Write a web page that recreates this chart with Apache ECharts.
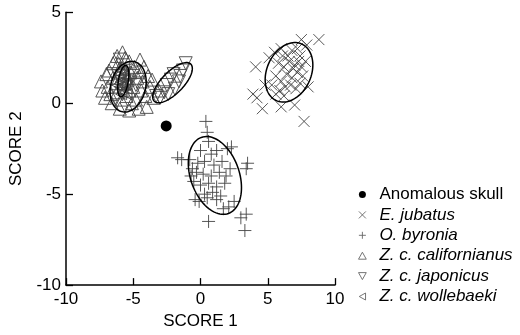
<!DOCTYPE html>
<html>
<head>
<meta charset="utf-8">
<script src="https://cdn.jsdelivr.net/npm/echarts@6/dist/echarts.min.js"></script>
<style>
  html, body { margin: 0; padding: 0; background: #fff; }
  #chart { width: 520px; height: 335px; }
</style>
</head>
<body>
<div id="chart"></div>
<script>
// series names, as in the legend
const seriesNames = ['Anomalous skull', 'E. jubatus', 'O. byronia', 'Z. c. californianus', 'Z. c. japonicus', 'Z. c. wollebaeki'];

const anomalousSkull = [[-2.55, -1.25]];

const eJubatus = [
  [4.1, 2.0], [8.8, 3.5], [7.5, 3.5], [7.9, 3.2], [3.9, 0.5], [4.2, 0.3], [4.6, -0.3], [6.0, -0.2],
  [7.0, -0.1], [7.7, -1.0], [8.0, 0.9], [4.8, 1.0], [5.1, 2.5], [7.2, 3.0],
  [5.5, 2.8], [6.0, 3.0], [6.5, 2.6], [6.8, 2.9], [7.4, 2.6], [5.8, 2.2], [6.2, 2.0], [6.6, 2.3],
  [7.0, 2.1], [7.5, 2.0], [7.8, 2.3], [5.6, 1.5], [6.0, 1.2], [6.4, 1.6], [6.8, 1.4], [7.2, 1.7],
  [7.6, 1.5], [5.3, 1.0], [5.9, 0.7], [6.3, 0.9], [6.7, 1.0], [7.1, 0.8], [6.2, 0.4], [5.6, 0.5],
  [7.4, 1.1], [6.9, 1.9], [6.1, 2.6], [7.3, 2.3]
];

const oByronia = [
  [0.4, -1.0], [0.5, -1.6], [0.6, -2.1], [-1.7, -3.0], [-1.4, -3.1], [2.3, -2.4], [2.0, -2.5], [3.5, -3.3],
  [3.4, -3.6], [-0.3, -3.8], [-0.7, -4.0], [-0.4, -5.3], [0.5, -5.2], [1.9, -4.0], [2.5, -5.4], [-0.1, -5.4],
  [0.6, -6.5], [1.7, -5.8], [3.0, -6.3], [3.3, -7.0], [1.2, -5.3], [2.1, -5.7], [3.4, -6.1],
  [0.0, -2.6], [0.8, -2.8], [1.2, -2.6], [0.3, -3.2], [-0.2, -3.3], [1.0, -3.4], [1.6, -3.2], [-0.6, -3.6],
  [0.2, -3.9], [0.8, -4.0], [1.4, -3.8], [2.2, -3.6], [-0.5, -4.3], [0.0, -4.5], [0.6, -4.4], [1.2, -4.6],
  [1.8, -4.4], [0.3, -5.0], [0.9, -4.9], [1.5, -5.1], [-0.8, -3.1]
];

const zcCalifornianus = [
  [-7.4, 1.2], [-7.0, 1.6], [-6.8, 1.8], [-6.5, 2.2], [-6.2, 2.6], [-5.8, 2.8], [-5.6, 2.5], [-5.3, 2.3],
  [-4.5, 2.4], [-4.2, 2.0], [-3.9, 1.5], [-3.6, 1.3], [-3.75, 0.9], [-3.1, 0.7], [-4.0, -0.2], [-4.6, -0.3],
  [-5.3, -0.4], [-6.0, -0.3], [-6.6, 0.0], [-7.1, 0.3], [-7.3, 0.7], [-6.9, 0.9], [-6.5, 1.4], [-6.2, 0.6],
  [-6.0, 1.9], [-5.7, 1.1], [-5.5, 0.4], [-5.2, 1.7], [-5.0, 0.9], [-4.8, 0.2], [-4.7, 1.4], [-4.4, 0.7],
  [-4.3, 1.2], [-5.9, 0.2], [-6.3, 1.1], [-5.4, 1.3], [-4.9, 2.0], [-5.1, 0.0], [-4.1, 0.4], [-6.7, 0.5],
  [-5.6, 1.7], [-5.9, 1.4], [-5.3, 0.7], [-4.6, 1.8], [-6.1, 2.2], [-3.5, 0.3]
];

const zcJaponicus = [
  [-1.1, 2.2], [-1.3, 1.8], [-1.6, 1.2], [-2.2, 1.3], [-1.9, 0.8], [-3.0, 0.3], [-2.5, 1.0], [-2.0, 1.6],
  [-1.5, 1.5], [-2.7, 0.6], [-3.3, 0.4], [-2.4, 0.5],
  [-6.5, 1.6], [-5.8, 0.5], [-5.4, 1.2], [-6.0, 2.4], [-4.8, 1.0], [-6.3, 0.2], [-5.0, 1.5]
];

const zcWollebaeki = [
  [-5.9, 1.8], [-5.7, 1.5], [-5.9, 1.2], [-5.6, 1.0], [-6.0, 0.9], [-5.8, 0.6], [-5.5, 0.8], [-6.1, 1.4],
  [-5.7, 2.0], [-5.8, 1.0], [-6.0, 1.6], [-5.6, 1.3], [-5.5, 0.5], [-5.9, 0.5], [-6.2, 1.0]
];

// ellipses: centre and two conjugate semi-axis vectors, all in score units
const ellipseCenters = [[6.58, 1.70], [1.07, -3.97], [-5.38, 0.91], [-2.08, 1.13], [-5.74, 1.22]];
const ellipseAxisU = [[0.96, 1.55], [-1.01, 2.09], [0.49, 1.37], [1.36, 1.02], [0.20, 0.86]];
const ellipseAxisV = [[1.49, -0.52], [1.70, 0.46], [1.25, -0.25], [0.565, -0.424], [0.36, -0.05]];

const xTicks = [-10, -5, 0, 5, 10];
const yTicks = [-10, -5, 0, 5];

const FONT = '"Liberation Sans", Arial, sans-serif';
const markColor = '#444';

const symbols = {
  cross: 'path://M0,0L10,10M10,0L0,10',
  plus: 'path://M5,0L5,10M0,5L10,5',
  triUp: 'path://M5,0L10,9L0,9Z',
  triDown: 'path://M0,0L10,0L5,9Z',
  triLeft: 'path://M0,5L9,0L9,10Z'
};

function markSeries(name, data, symbol, size) {
  return {
    name: name,
    type: 'scatter',
    data: data,
    symbol: symbol,
    symbolSize: size,
    itemStyle: { color: 'none', borderColor: markColor, borderWidth: 0.9, opacity: 1 },
    emphasis: { disabled: true },
    z: 2
  };
}

const chart = echarts.init(document.getElementById('chart'));

chart.setOption({
  animation: false,
  textStyle: { fontFamily: FONT },
  grid: { left: 58.5, right: 185, top: 12.3, bottom: 46.7 },
  xAxis: {
    type: 'value',
    min: xTicks[0], max: xTicks[xTicks.length - 1], interval: 5,
    name: 'SCORE 1',
    nameLocation: 'middle',
    nameGap: 25,
    nameTextStyle: { fontSize: 17, color: '#000', fontFamily: FONT },
    axisLine: { onZero: false, lineStyle: { color: '#000', width: 1.5 } },
    axisTick: { inside: true, length: 7, lineStyle: { color: '#000', width: 1.3 } },
    axisLabel: { fontSize: 17, color: '#000', margin: 6, showMinLabel: true, showMaxLabel: true },
    splitLine: { show: false }
  },
  yAxis: {
    type: 'value',
    min: yTicks[0], max: yTicks[yTicks.length - 1], interval: 5,
    name: 'SCORE 2',
    nameLocation: 'middle',
    nameGap: 41,
    nameTextStyle: { fontSize: 17, color: '#000', fontFamily: FONT },
    axisLine: { onZero: false, lineStyle: { color: '#000', width: 1.5 } },
    axisTick: { inside: true, length: 7, lineStyle: { color: '#000', width: 1.3 } },
    axisLabel: { fontSize: 17, color: '#000', margin: 5, showMinLabel: true, showMaxLabel: true },
    splitLine: { show: false }
  },
  legend: {
    orient: 'vertical',
    left: 351,
    top: 181,
    itemWidth: 24,
    itemHeight: 7,
    itemGap: 3.4,
    selectedMode: false,
    data: seriesNames.map(function (n, i) {
      return i === 0
        ? { name: n, itemStyle: { color: '#000', borderWidth: 0, opacity: 1 } }
        : { name: n, itemStyle: { color: 'none', borderColor: '#666', borderWidth: 0.9, opacity: 1 } };
    }),
    formatter: function (n) { return n === seriesNames[0] ? n : '{i|' + n + '}'; },
    textStyle: {
      fontSize: 17, color: '#000', fontFamily: FONT, lineHeight: 17,
      rich: { i: { fontStyle: 'italic', fontSize: 17, fontFamily: FONT, lineHeight: 17 } }
    }
  },
  series: [
    {
      name: seriesNames[0],
      type: 'scatter',
      data: anomalousSkull,
      symbol: 'circle',
      symbolSize: 11,
      itemStyle: { color: '#000', opacity: 1 },
      z: 4
    },
    markSeries(seriesNames[1], eJubatus, symbols.cross, 11),
    markSeries(seriesNames[2], oByronia, symbols.plus, 13),
    markSeries(seriesNames[3], zcCalifornianus, symbols.triUp, 13),
    markSeries(seriesNames[4], zcJaponicus, symbols.triDown, 13),
    markSeries(seriesNames[5], zcWollebaeki, symbols.triLeft, 11),
    {
      name: 'ellipses',
      type: 'custom',
      data: ellipseCenters,
      z: 5,
      silent: true,
      renderItem: function (params, api) {
        const c = ellipseCenters[params.dataIndex];
        const u = ellipseAxisU[params.dataIndex];
        const v = ellipseAxisV[params.dataIndex];
        const pts = [];
        for (let k = 0; k < 90; k++) {
          const t = k / 90 * Math.PI * 2;
          pts.push(api.coord([
            c[0] + u[0] * Math.cos(t) + v[0] * Math.sin(t),
            c[1] + u[1] * Math.cos(t) + v[1] * Math.sin(t)
          ]));
        }
        return {
          type: 'polygon',
          shape: { points: pts },
          style: { fill: 'none', stroke: '#000', lineWidth: 1.5 }
        };
      }
    }
  ]
});
</script>
</body>
</html>
